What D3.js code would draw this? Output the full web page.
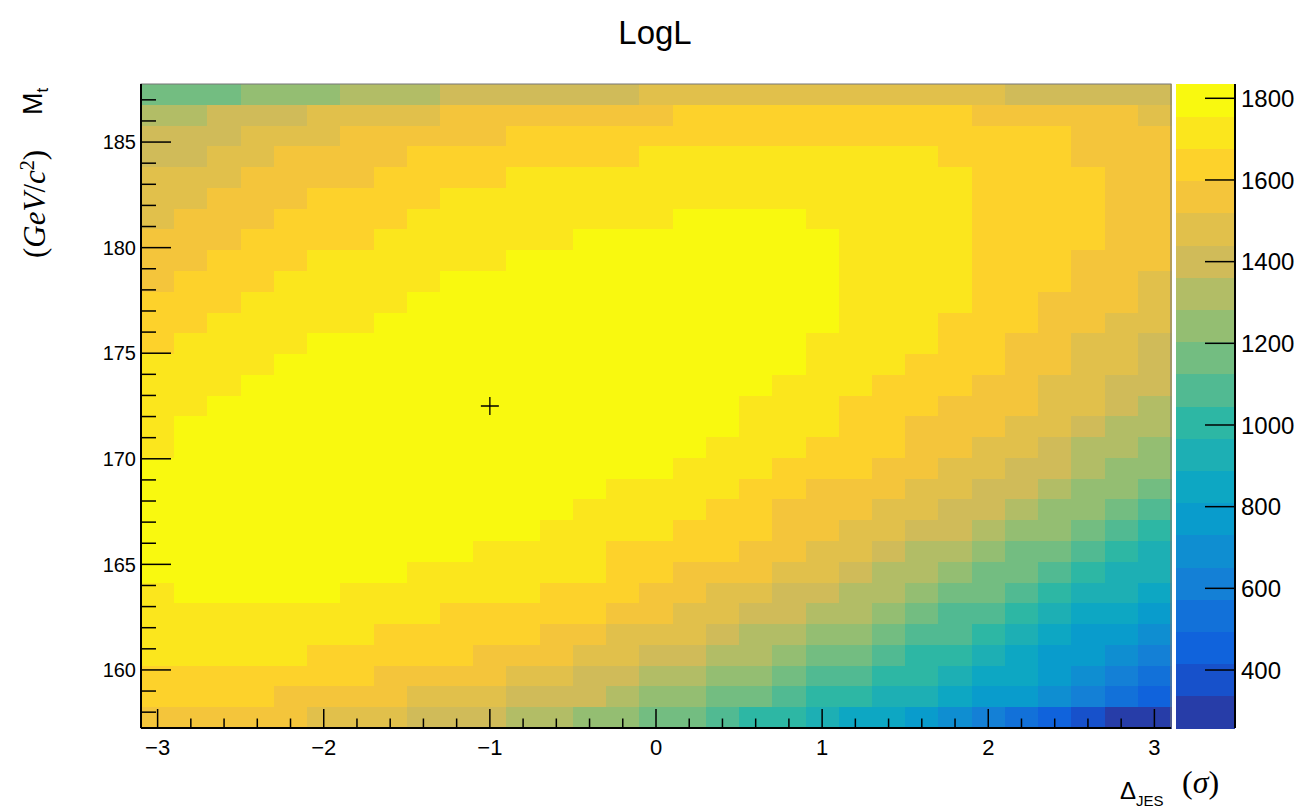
<!DOCTYPE html>
<html><head><meta charset="utf-8">
<script src="https://cdn.jsdelivr.net/npm/d3@7"></script>
<style>
body{margin:0;background:#fff}
svg{display:block}
text{font-family:"Liberation Sans",Arial,Helvetica,sans-serif;fill:#000}
</style>
</head><body>
<svg id="chart" width="1303" height="808"></svg>
<script>
// ---------------- data ----------------
const title = "LogL";
// x bin centres: Delta_JES (sigma)
const jesCenters = [-3.0,-2.8,-2.6,-2.4,-2.2,-2.0,-1.8,-1.6,-1.4,-1.2,-1.0,-0.8,-0.6,-0.4,-0.2,0.0,
  0.2,0.4,0.6,0.8,1.0,1.2,1.4,1.6,1.8,2.0,2.2,2.4,2.6,2.8,3.0];
// y bin centres: M_t (GeV/c^2), listed top row first
const mtCenters = [187.26,186.27,185.29,184.31,183.32,182.34,181.35,180.37,179.39,178.40,177.42,
  176.44,175.45,174.47,173.48,172.50,171.52,170.53,169.55,168.56,167.58,166.60,165.61,164.63,
  163.65,162.66,161.68,160.69,159.71,158.73,157.74];
// LogL values, one row per mtCenters entry, one column per jesCenters entry
const logL = [
 [1166,1166,1166,1244,1244,1244,1322,1322,1322,1401,1401,1401,1401,1401,1401,1479,1479,1479,1479,1479,1479,1479,1479,1479,1479,1479,1401,1401,1401,1401,1401],
 [1322,1322,1401,1401,1401,1479,1479,1479,1479,1557,1557,1557,1557,1557,1557,1557,1636,1636,1636,1636,1636,1636,1636,1636,1636,1557,1557,1557,1557,1557,1479],
 [1401,1401,1401,1479,1479,1479,1557,1557,1557,1557,1557,1636,1636,1636,1636,1636,1636,1636,1636,1636,1636,1636,1636,1636,1636,1636,1636,1636,1557,1557,1557],
 [1401,1401,1479,1479,1557,1557,1557,1557,1636,1636,1636,1636,1636,1636,1636,1714,1714,1714,1714,1714,1714,1714,1714,1714,1636,1636,1636,1636,1557,1557,1557],
 [1479,1479,1479,1557,1557,1557,1557,1636,1636,1636,1636,1714,1714,1714,1714,1714,1714,1714,1714,1714,1714,1714,1714,1714,1714,1636,1636,1636,1636,1557,1557],
 [1479,1479,1557,1557,1557,1636,1636,1636,1636,1714,1714,1714,1714,1714,1714,1714,1714,1714,1714,1714,1714,1714,1714,1714,1714,1636,1636,1636,1636,1557,1557],
 [1479,1557,1557,1557,1636,1636,1636,1636,1714,1714,1714,1714,1714,1714,1714,1714,1792,1792,1792,1792,1714,1714,1714,1714,1714,1636,1636,1636,1636,1557,1557],
 [1557,1557,1557,1636,1636,1636,1636,1714,1714,1714,1714,1714,1714,1792,1792,1792,1792,1792,1792,1792,1792,1714,1714,1714,1714,1636,1636,1636,1636,1557,1557],
 [1557,1557,1636,1636,1636,1714,1714,1714,1714,1714,1714,1792,1792,1792,1792,1792,1792,1792,1792,1792,1792,1714,1714,1714,1714,1636,1636,1636,1557,1557,1557],
 [1557,1636,1636,1636,1714,1714,1714,1714,1714,1792,1792,1792,1792,1792,1792,1792,1792,1792,1792,1792,1792,1714,1714,1714,1714,1636,1636,1636,1557,1557,1479],
 [1636,1636,1636,1714,1714,1714,1714,1714,1792,1792,1792,1792,1792,1792,1792,1792,1792,1792,1792,1792,1792,1714,1714,1714,1714,1636,1636,1557,1557,1557,1479],
 [1636,1636,1714,1714,1714,1714,1714,1792,1792,1792,1792,1792,1792,1792,1792,1792,1792,1792,1792,1792,1792,1714,1714,1714,1636,1636,1636,1557,1557,1479,1479],
 [1636,1714,1714,1714,1714,1792,1792,1792,1792,1792,1792,1792,1792,1792,1792,1792,1792,1792,1792,1792,1714,1714,1714,1714,1636,1636,1557,1557,1479,1479,1401],
 [1714,1714,1714,1714,1792,1792,1792,1792,1792,1792,1792,1792,1792,1792,1792,1792,1792,1792,1792,1792,1714,1714,1714,1636,1636,1636,1557,1557,1479,1479,1401],
 [1714,1714,1714,1792,1792,1792,1792,1792,1792,1792,1792,1792,1792,1792,1792,1792,1792,1792,1792,1714,1714,1714,1636,1636,1636,1557,1557,1479,1479,1401,1401],
 [1714,1714,1792,1792,1792,1792,1792,1792,1792,1792,1833,1792,1792,1792,1792,1792,1792,1792,1714,1714,1714,1636,1636,1636,1557,1557,1557,1479,1479,1401,1322],
 [1714,1792,1792,1792,1792,1792,1792,1792,1792,1792,1792,1792,1792,1792,1792,1792,1792,1792,1714,1714,1714,1636,1636,1557,1557,1557,1479,1479,1401,1322,1322],
 [1714,1792,1792,1792,1792,1792,1792,1792,1792,1792,1792,1792,1792,1792,1792,1792,1792,1714,1714,1714,1636,1636,1636,1557,1557,1479,1479,1401,1322,1322,1244],
 [1792,1792,1792,1792,1792,1792,1792,1792,1792,1792,1792,1792,1792,1792,1792,1792,1714,1714,1714,1636,1636,1636,1557,1557,1479,1479,1401,1401,1322,1244,1244],
 [1792,1792,1792,1792,1792,1792,1792,1792,1792,1792,1792,1792,1792,1792,1714,1714,1714,1714,1636,1636,1557,1557,1557,1479,1479,1401,1401,1322,1244,1244,1166],
 [1792,1792,1792,1792,1792,1792,1792,1792,1792,1792,1792,1792,1792,1714,1714,1714,1714,1636,1636,1557,1557,1557,1479,1479,1401,1401,1322,1244,1244,1166,1087],
 [1792,1792,1792,1792,1792,1792,1792,1792,1792,1792,1792,1792,1714,1714,1714,1714,1636,1636,1636,1557,1557,1479,1479,1401,1401,1322,1244,1244,1166,1087,1009],
 [1792,1792,1792,1792,1792,1792,1792,1792,1792,1792,1714,1714,1714,1714,1636,1636,1636,1636,1557,1557,1479,1479,1401,1322,1322,1244,1166,1166,1087,1009,931],
 [1792,1792,1792,1792,1792,1792,1792,1792,1714,1714,1714,1714,1714,1714,1636,1636,1557,1557,1557,1479,1479,1401,1322,1322,1244,1166,1166,1087,1009,931,931],
 [1714,1792,1792,1792,1792,1792,1714,1714,1714,1714,1714,1714,1636,1636,1636,1557,1557,1479,1479,1401,1401,1322,1322,1244,1166,1166,1087,1009,931,931,852],
 [1714,1714,1714,1714,1714,1714,1714,1714,1714,1636,1636,1636,1636,1636,1557,1557,1479,1479,1401,1401,1322,1322,1244,1166,1087,1087,1009,931,852,852,774],
 [1714,1714,1714,1714,1714,1714,1714,1636,1636,1636,1636,1636,1557,1557,1479,1479,1479,1401,1322,1322,1244,1244,1166,1087,1087,1009,931,852,774,774,696],
 [1714,1714,1714,1714,1714,1636,1636,1636,1636,1636,1557,1557,1557,1479,1479,1401,1401,1322,1322,1244,1166,1166,1087,1009,1009,931,852,774,774,696,617],
 [1636,1636,1636,1636,1636,1636,1636,1557,1557,1557,1557,1479,1479,1401,1401,1322,1322,1244,1244,1166,1087,1087,1009,1009,931,852,852,774,696,617,539],
 [1636,1636,1636,1636,1557,1557,1557,1557,1479,1479,1479,1401,1401,1401,1322,1244,1244,1166,1166,1087,1009,1009,931,931,852,774,774,696,617,539,461],
 [1557,1557,1557,1557,1557,1479,1479,1479,1401,1401,1401,1322,1322,1244,1244,1166,1166,1087,1009,1009,931,852,852,774,696,617,539,461,382,304,304]
];
const zRange = [258, 1835];
const nLevels = 20;
const bestFit = [-1.0, 172.5];
const xDomain = [-3.1, 3.1];
const yDomain = [157.25, 187.75];
const xTicks = [-3,-2,-1,0,1,2,3];
const yTicks = [160,165,170,175,180,185];
const zTicks = [400,600,800,1000,1200,1400,1600,1800];

// ---------------- palette (ROOT kBird) ----------------
const birdStops = [0.0,0.125,0.25,0.375,0.5,0.625,0.75,0.875,1.0];
const birdR = [0.2082,0.0592,0.0780,0.0232,0.1802,0.5301,0.8186,0.9956,0.9764];
const birdG = [0.1664,0.3599,0.5041,0.6419,0.7178,0.7492,0.7328,0.7862,0.9832];
const birdB = [0.5293,0.8684,0.8385,0.7914,0.6425,0.4662,0.3499,0.1968,0.0539];
function bird(t){
  let k = 1; while (k < birdStops.length-1 && t > birdStops[k]) k++;
  const f = (t - birdStops[k-1])/(birdStops[k]-birdStops[k-1]);
  const c = a => Math.round(255*(a[k-1] + f*(a[k]-a[k-1])));
  return d3.rgb(c(birdR), c(birdG), c(birdB)).formatHex();
}
const levelColors = d3.range(nLevels).map(i => bird(Math.floor((i+0.99)*255/nLevels)/255));

// ---------------- layout ----------------
const plot = {l:141, r:1171, t:84, b:728};
const pal = {l:1176, r:1235};

const svg = d3.select("#chart");
const x = d3.scaleLinear().domain(xDomain).range([plot.l, plot.r]);
const y = d3.scaleLinear().domain(yDomain).range([plot.b, plot.t]);
const xb = d3.scaleBand().domain(jesCenters).range([plot.l, plot.r]);
const yb = d3.scaleBand().domain(mtCenters).range([plot.t, plot.b]);
const color = d3.scaleQuantize().domain(zRange).range(levelColors);
const z = d3.scaleLinear().domain(zRange).range([plot.b, plot.t]);

// cells
const cells = [];
logL.forEach((row, i) => row.forEach((v, j) => cells.push({mt: mtCenters[i], jes: jesCenters[j], v})));
svg.append("g").attr("shape-rendering","crispEdges")
  .selectAll("rect").data(cells).join("rect")
  .attr("x", d => xb(d.jes)).attr("y", d => yb(d.mt))
  .attr("width", xb.bandwidth()+0.5).attr("height", yb.bandwidth()+0.5)
  .attr("fill", d => color(d.v));

// frame
svg.append("rect").attr("x", plot.l).attr("y", plot.t)
  .attr("width", plot.r-plot.l).attr("height", plot.b-plot.t)
  .attr("fill","none").attr("stroke","#777").attr("stroke-width",1);

// x axis (ticks inside, pointing up)
const gx = svg.append("g").attr("stroke","#000").attr("stroke-width",1.5);
gx.append("line").attr("x1",plot.l).attr("x2",plot.r).attr("y1",plot.b).attr("y2",plot.b).attr("stroke-width",2);
const xMinor = d3.range(-30, 31, 2).map(v => v/10);
gx.selectAll(".xm").data(xMinor).join("line")
  .attr("x1", d => x(d)).attr("x2", d => x(d))
  .attr("y1", plot.b).attr("y2", d => plot.b - (xTicks.includes(Math.round(d*10)/10) ? 19 : 9.5));
svg.append("g").selectAll("text").data(xTicks).join("text")
  .attr("x", d => x(d)).attr("y", plot.b + 27)
  .attr("text-anchor","middle").attr("font-size",22)
  .text(d => d3.format("d")(d));

// y axis (ticks inside, pointing right)
const gy = svg.append("g").attr("stroke","#000").attr("stroke-width",1.5);
gy.append("line").attr("x1",plot.l).attr("x2",plot.l).attr("y1",plot.t).attr("y2",plot.b).attr("stroke-width",2);
const yMinor = d3.range(158, 188, 1);
gy.selectAll(".ym").data(yMinor).join("line")
  .attr("y1", d => y(d)).attr("y2", d => y(d))
  .attr("x1", plot.l).attr("x2", d => plot.l + (yTicks.includes(d) ? 30 : 15));
svg.append("g").selectAll("text").data(yTicks).join("text")
  .attr("x", plot.l - 5).attr("y", d => y(d)).attr("dy","0.36em")
  .attr("text-anchor","end").attr("font-size",20)
  .text(d => d);

// best-fit marker
const bx = x(bestFit[0]), by = y(bestFit[1]);
svg.append("path").attr("d", `M${bx-9},${by}H${bx+9}M${bx},${by-9}V${by+9}`)
  .attr("stroke","#000").attr("stroke-width",1.3).attr("fill","none");

// palette
const thr = [zRange[0], ...color.thresholds(), zRange[1]];
svg.append("g").attr("shape-rendering","crispEdges")
  .selectAll("rect").data(d3.range(nLevels)).join("rect")
  .attr("x", pal.l).attr("width", pal.r - pal.l)
  .attr("y", i => z(thr[i+1])).attr("height", i => z(thr[i]) - z(thr[i+1]) + 0.5)
  .attr("fill", i => levelColors[i]);
const gz = svg.append("g").attr("stroke","#000").attr("stroke-width",1.5);
gz.append("line").attr("x1",pal.r).attr("x2",pal.r).attr("y1",plot.t).attr("y2",plot.b).attr("stroke-width",2);
gz.selectAll(".zt").data(zTicks).join("line")
  .attr("x1", pal.r - 30).attr("x2", pal.r).attr("y1", d => z(d)).attr("y2", d => z(d));
svg.append("g").selectAll("text").data(zTicks).join("text")
  .attr("x", pal.r + 6).attr("y", d => z(d)).attr("dy","0.36em")
  .attr("font-size",24).text(d => d);

// title
svg.append("text").attr("x", 655).attr("y", 44).attr("text-anchor","middle")
  .attr("font-size",33).text(title);

// y title
const yt = svg.append("text").attr("transform","translate(42,115) rotate(-90)").attr("font-size",27);
yt.append("tspan").text("M");
yt.append("tspan").attr("font-size",17).attr("dy",6).text("t");
const yu = svg.append("text").attr("transform","translate(45,258) rotate(-90)")
  .attr("font-size",31).style("font-family","'Liberation Serif','DejaVu Serif',serif");
yu.append("tspan").text("(");
yu.append("tspan").attr("font-style","italic").text("GeV");
yu.append("tspan").text("/");
yu.append("tspan").attr("font-style","italic").text("c");
yu.append("tspan").attr("font-size",20).attr("dy",-11).text("2");
yu.append("tspan").attr("dy",11).text(")");

// x title
const xt = svg.append("text").attr("x", 1120).attr("y", 799).attr("font-size",24);
xt.append("tspan").text("\u0394");
xt.append("tspan").attr("font-size",15).attr("dy",7).text("JES");
svg.append("text").attr("x", 1182).attr("y", 793).attr("font-size",32)
  .style("font-family","'Liberation Serif','DejaVu Serif',serif")
  .html("(<tspan font-style='italic'>\u03c3</tspan>)");
</script>
</body></html>
